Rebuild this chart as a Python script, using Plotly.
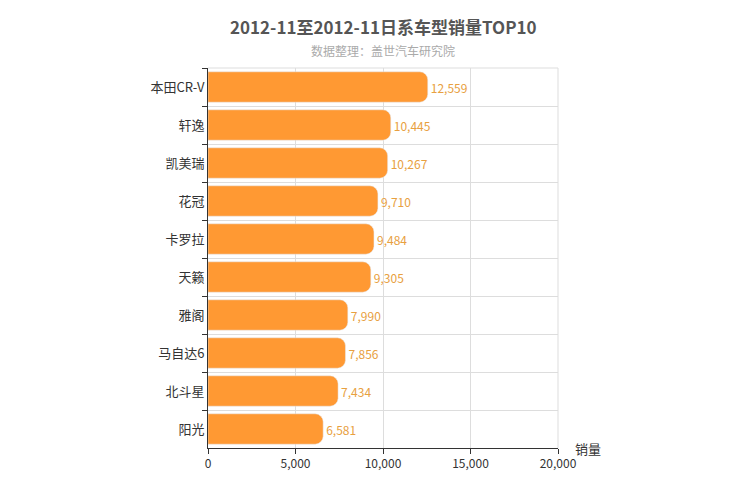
import plotly.graph_objects as go

cars = ["本田CR-V", "轩逸", "凯美瑞", "花冠", "卡罗拉", "天籁", "雅阁", "马自达6", "北斗星", "阳光"]
sales = [12559, 10445, 10267, 9710, 9484, 9305, 7990, 7856, 7434, 6581]

fig = go.Figure(go.Bar(
    y=cars, x=sales, orientation="h",
    marker=dict(color="#FF9933", cornerradius=8),
    width=0.8,
    text=[f"{v:,}" for v in sales], textposition="outside",
    textfont=dict(color="#E8A040", size=12),
    cliponaxis=False,
))
fig.update_layout(
    width=750, height=500,
    margin=dict(l=200, r=200, t=60, b=60),
    plot_bgcolor="white", paper_bgcolor="white",
    font=dict(family="Noto Sans CJK SC", color="#333"),
    showlegend=False,
    annotations=[
        dict(text="<b>2012-11至2012-11日系车型销量TOP10</b>", x=0.5, y=1.11, xref="paper", yref="paper",
             xanchor="center", yanchor="middle", showarrow=False, font=dict(size=17, color="#555")),
        dict(text="数据整理：盖世汽车研究院", x=0.5, xref="paper", y=1.045, yref="paper",
             xanchor="center", yanchor="middle", showarrow=False, font=dict(size=12, color="#aaa")),
        dict(text="销量", x=1, xref="paper", y=0, yref="paper", xanchor="left", yanchor="bottom",
             xshift=15, yshift=-12, showarrow=False, font=dict(size=13, color="#333")),
    ],
)
fig.update_xaxes(range=[0, 20000], dtick=5000, tickformat=",", showgrid=True, gridcolor="#ddd",
                 showline=True, linecolor="#333", ticks="outside", tickcolor="#333",
                 tickfont=dict(size=12), mirror=False, zeroline=False)
fig.update_yaxes(autorange="reversed", tickson="boundaries", showgrid=True, gridcolor="#ddd",
                 showline=True, linecolor="#333", ticks="outside", tickcolor="#333",
                 tickfont=dict(size=13, color="#333"))
fig.add_shape(type="line", xref="paper", yref="paper", x0=1, x1=1, y0=0, y1=1, line=dict(color="#ddd", width=1))
fig.add_shape(type="line", xref="paper", yref="paper", x0=0, x1=1, y0=1, y1=1, line=dict(color="#ddd", width=1))
fig.write_html("out.html")
